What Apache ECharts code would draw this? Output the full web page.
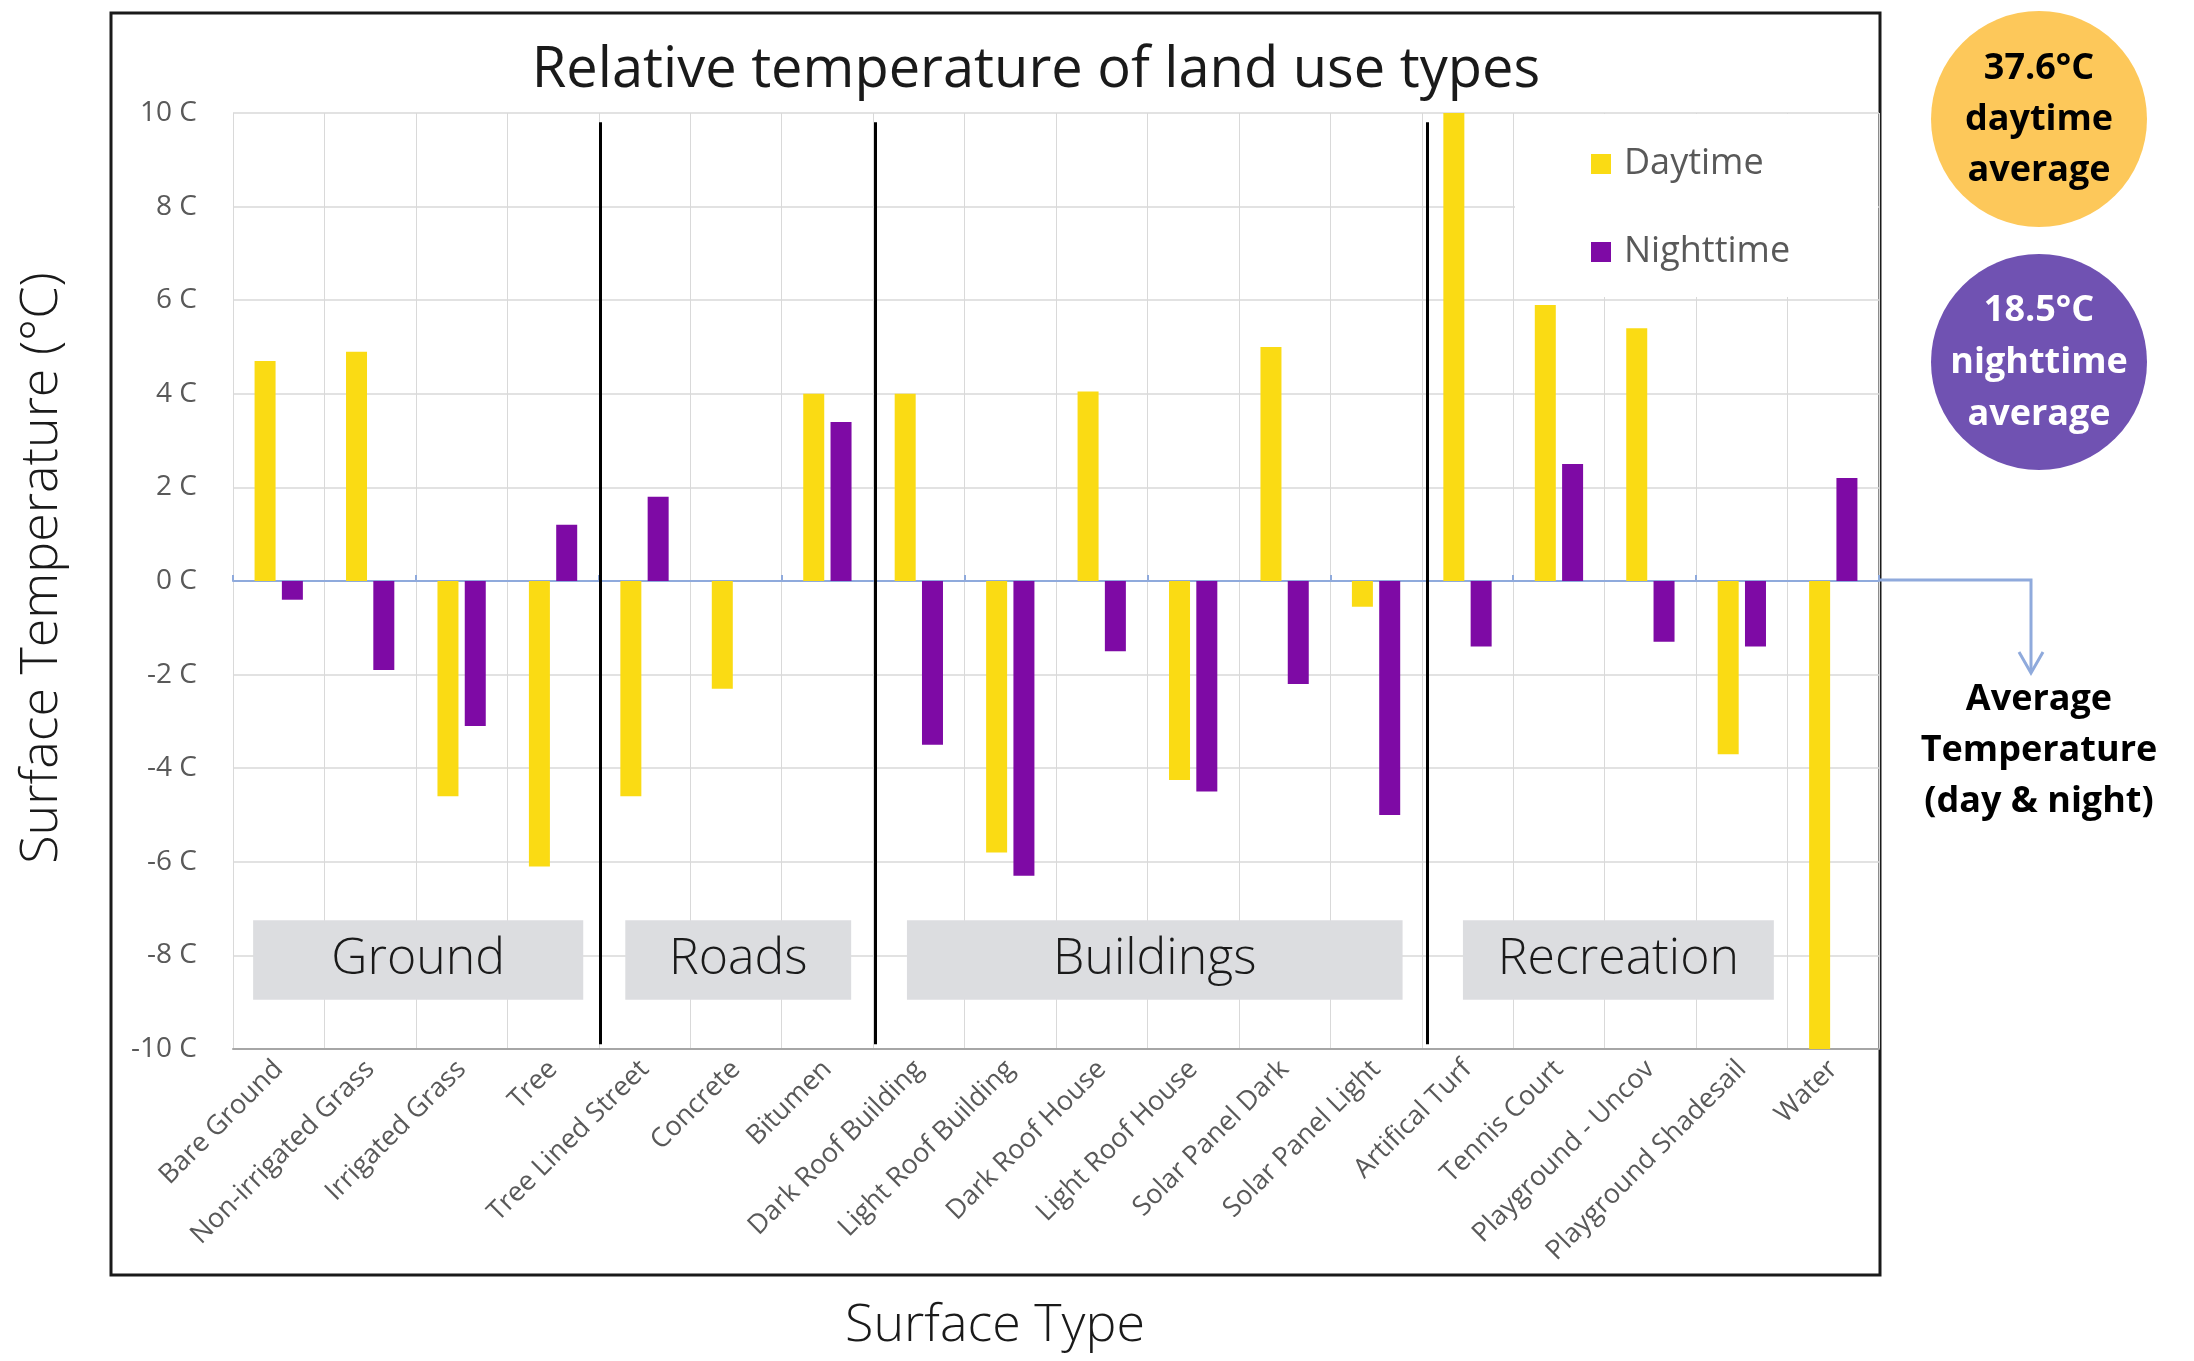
<!DOCTYPE html>
<html>
<head>
<meta charset="utf-8">
<script src="https://cdn.jsdelivr.net/npm/echarts@6/dist/echarts.min.js"></script>
<style>
  html, body { margin: 0; padding: 0; background: #fff; }
  #chart { width: 2194px; height: 1361px; }
</style>
</head>
<body>
<div id="chart"></div>
<script>
const categories = [
  "Bare Ground", "Non-irrigated Grass", "Irrigated Grass", "Tree",
  "Tree Lined Street", "Concrete", "Bitumen",
  "Dark Roof Building", "Light Roof Building", "Dark Roof House", "Light Roof House",
  "Solar Panel Dark", "Solar Panel Light",
  "Artifical Turf", "Tennis Court", "Playground - Uncov", "Playground Shadesail", "Water"
];
const daytime = [4.7, 4.9, -4.6, -6.1, -4.6, -2.3, 4.0, 4.0, -5.8, 4.05, -4.25, 5.0, -0.55, 10.0, 5.9, 5.4, -3.7, -10.0];
const nighttime = [-0.4, -1.9, -3.1, 1.2, 1.8, 0, 3.4, -3.5, -6.3, -1.5, -4.5, -2.2, -5.0, -1.4, 2.5, -1.3, -1.4, 2.2];

// group boundaries (in category units) and label boxes
const dividers = [4.02, 7.02, 13.06];
const groups = [
  { name: "Ground", from: 0.22, to: 3.83 },
  { name: "Roads", from: 4.29, to: 6.76 },
  { name: "Buildings", from: 7.37, to: 12.79 },
  { name: "Recreation", from: 13.45, to: 16.85 }
];
const yTicks = { min: -10, max: 10, interval: 2 };

const FONT = "Open Sans";
const chart = echarts.init(document.getElementById("chart"));

chart.setOption({
  animation: false,
  textStyle: { fontFamily: FONT },
  title: {
    text: "Relative temperature of land use types",
    left: 1031,
    top: 38,
    textAlign: "center",
    textStyle: { fontSize: 56, fontWeight: 500, color: "#1a1a1a", fontFamily: FONT }
  },
  legend: {
    data: ["Daytime", "Nighttime"],
    orient: "vertical",
    left: 1586,
    top: 141,
    icon: "rect",
    itemWidth: 20,
    itemHeight: 20,
    itemGap: 52,
    textStyle: { fontSize: 36, color: "#595959", fontFamily: FONT, padding: [0, 0, 0, 8] }
  },
  grid: { left: 233, right: 315, top: 113, bottom: 312 },
  xAxis: [
    {
      type: "category",
      data: categories,
      axisLine: { onZero: false, lineStyle: { color: "#A6A6A6", width: 2 } },
      axisTick: { show: false },
      axisLabel: { rotate: 45, margin: 16, fontSize: 27, color: "#595959", fontFamily: FONT },
      splitLine: { show: true, lineStyle: { color: "#D9D9D9", width: 1 } }
    },
    {
      type: "category",
      data: categories,
      position: "bottom",
      axisLine: { onZero: true, lineStyle: { color: "#8FAADC", width: 2 } },
      axisTick: { show: true, inside: true, length: 6, lineStyle: { color: "#8FAADC", width: 2 } },
      axisLabel: { show: false },
      splitLine: { show: false }
    },
    { type: "value", min: 0, max: categories.length, show: false }
  ],
  yAxis: {
    type: "value",
    min: yTicks.min,
    max: yTicks.max,
    interval: yTicks.interval,
    axisLine: { show: false },
    axisTick: { show: false },
    axisLabel: { formatter: "{value} C", margin: 36, fontSize: 28, color: "#595959", fontFamily: FONT },
    splitLine: { lineStyle: { color: "#D9D9D9", width: 1.5 } }
  },
  series: [
    {
      name: "Daytime",
      type: "bar",
      data: daytime,
      barWidth: 21,
      barGap: "30%",
      itemStyle: { color: "#FADB14" }
    },
    {
      name: "Nighttime",
      type: "bar",
      data: nighttime,
      barWidth: 21,
      itemStyle: { color: "#7E0AA5" }
    },
    {
      name: "groups",
      type: "line",
      xAxisIndex: 2,
      data: [],
      silent: true,
      markArea: {
        silent: true,
        itemStyle: { color: "#DCDDE0", opacity: 1 },
        label: {
          show: true,
          position: "inside",
          fontSize: 50,
          fontWeight: 300,
          fontFamily: FONT,
          color: "#1a1a1a"
        },
        data: groups.map((g) => [
          { name: g.name, coord: [g.from, -7.25] },
          { coord: [g.to, -8.95] }
        ])
      },
      markLine: {
        silent: true,
        symbol: "none",
        label: { show: false },
        lineStyle: { color: "#000", width: 3, type: "solid" },
        data: dividers.map((d) => [{ coord: [d, 9.8] }, { coord: [d, -9.9] }])
      }
    }
  ],
  graphic: [
    // white box behind legend covering gridlines
    {
      type: "rect",
      z: 1,
      shape: { x: 1515, y: 114, width: 363, height: 183 },
      style: { fill: "#fff" }
    },
    // outer chart frame
    {
      type: "rect",
      shape: { x: 111, y: 13, width: 1769, height: 1262 },
      style: { fill: null, stroke: "#1a1a1a", lineWidth: 3 }
    },
    {
      type: "text",
      x: 42,
      y: 568,
      rotation: Math.PI / 2,
      style: {
        text: "Surface Temperature (°C)",
        font: "300 52px 'Open Sans'",
        fill: "#1a1a1a",
        textAlign: "center",
        textVerticalAlign: "middle"
      }
    },
    {
      type: "text",
      x: 995,
      y: 1326,
      style: {
        text: "Surface Type",
        font: "300 52px 'Open Sans'",
        fill: "#1a1a1a",
        textAlign: "center",
        textVerticalAlign: "middle"
      }
    },
    // average annotations
    {
      type: "circle",
      shape: { cx: 2039, cy: 119, r: 108 },
      style: { fill: "#FDC85A" }
    },
    {
      type: "text",
      x: 2039,
      y: 120,
      style: {
        text: "37.6°C\ndaytime\naverage",
        font: "bold 36px 'Open Sans'",
        lineHeight: 51,
        fill: "#000",
        textAlign: "center",
        textVerticalAlign: "middle"
      }
    },
    {
      type: "circle",
      shape: { cx: 2039, cy: 362, r: 108 },
      style: { fill: "#7052B2" }
    },
    {
      type: "text",
      x: 2039,
      y: 363,
      style: {
        text: "18.5°C\nnighttime\naverage",
        font: "bold 36px 'Open Sans'",
        lineHeight: 52,
        fill: "#fff",
        textAlign: "center",
        textVerticalAlign: "middle"
      }
    },
    {
      type: "polyline",
      shape: { points: [[1880, 580], [2031, 580], [2031, 671]] },
      style: { stroke: "#8FAADC", lineWidth: 3, fill: null }
    },
    {
      type: "polyline",
      shape: { points: [[2019, 652], [2031, 673], [2043, 652]] },
      style: { stroke: "#8FAADC", lineWidth: 3, fill: null }
    },
    {
      type: "text",
      x: 2039,
      y: 751,
      style: {
        text: "Average\nTemperature\n(day & night)",
        font: "bold 36px 'Open Sans'",
        lineHeight: 51,
        fill: "#000",
        textAlign: "center",
        textVerticalAlign: "middle"
      }
    }
  ]
});
</script>
</body>
</html>
